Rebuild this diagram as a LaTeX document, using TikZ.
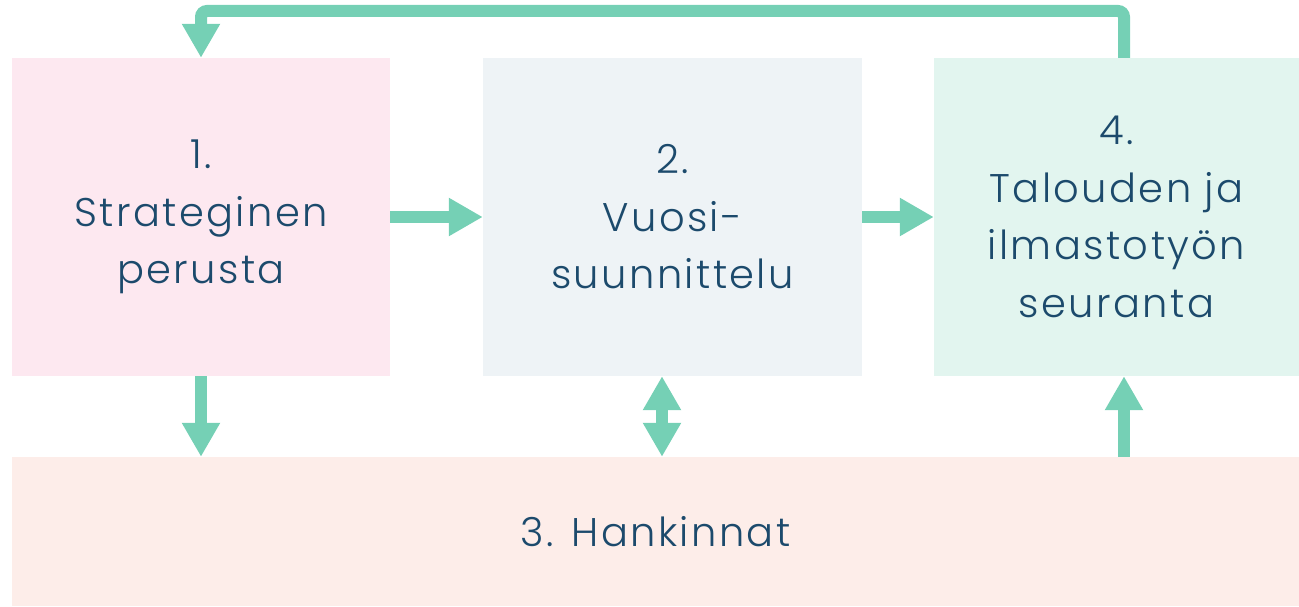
\documentclass[tikz,border=0pt]{standalone}
\usepackage{fontspec}
\setmainfont{Poppins}[UprightFont=* Light,LetterSpace=6]
\usetikzlibrary{arrows.meta}
\definecolor{flow}{HTML}{75D0B5}
\definecolor{ink}{HTML}{1C4A6C}
\definecolor{pinkbox}{HTML}{FDE8F0}
\definecolor{greybox}{HTML}{EEF3F6}
\definecolor{mintbox}{HTML}{E2F5EF}
\definecolor{peachbox}{HTML}{FDEDE9}
\tikzset{
  stage/.style = {minimum width=#1, minimum height=318pt, inner sep=0pt,
    align=center, text=ink, font=\fontsize{40}{57.5}\selectfont},
  link/.style = {draw=flow, line width=12pt,
    -{Triangle[width=36pt,length=34pt]}}
}
\begin{document}
\begin{tikzpicture}[x=1pt,y=1pt]
  \useasboundingbox (0,0) rectangle (1299,606);
  \node[stage=378pt,fill=pinkbox] (plan) at (201,389) {1.\\Strateginen\\perusta};
  \node[stage=379pt,fill=greybox] (year) at (672.5,389) {2.\\Vuosi-\\suunnittelu};
  \node[stage=365pt,fill=mintbox] (track) at (1116.5,389) {4.\\Talouden ja\\ilmastotyön\\seuranta};
  \node[stage=1287pt,minimum height=149pt,fill=peachbox] (buy) at (655.5,74.5) {3. Hankinnat};
  \draw[link] (plan) -- (year);
  \draw[link] (year) -- (track);
  \draw[link] (plan.south) -- (plan.south |- buy.north);
  \draw[link,{Triangle[width=36pt,length=34pt]}-{Triangle[width=36pt,length=34pt]}] ([xshift=-10.5pt]year.south) -- ([xshift=-10.5pt]year.south |- buy.north);
  \draw[link] ([xshift=7.5pt]track.south |- buy.north) -- ([xshift=7.5pt]track.south);
  % feedback loop over the top
  \draw[link,rounded corners=6pt] ([xshift=7.5pt]track.north) |- (201,595) -- (plan.north);
\end{tikzpicture}
\end{document}
